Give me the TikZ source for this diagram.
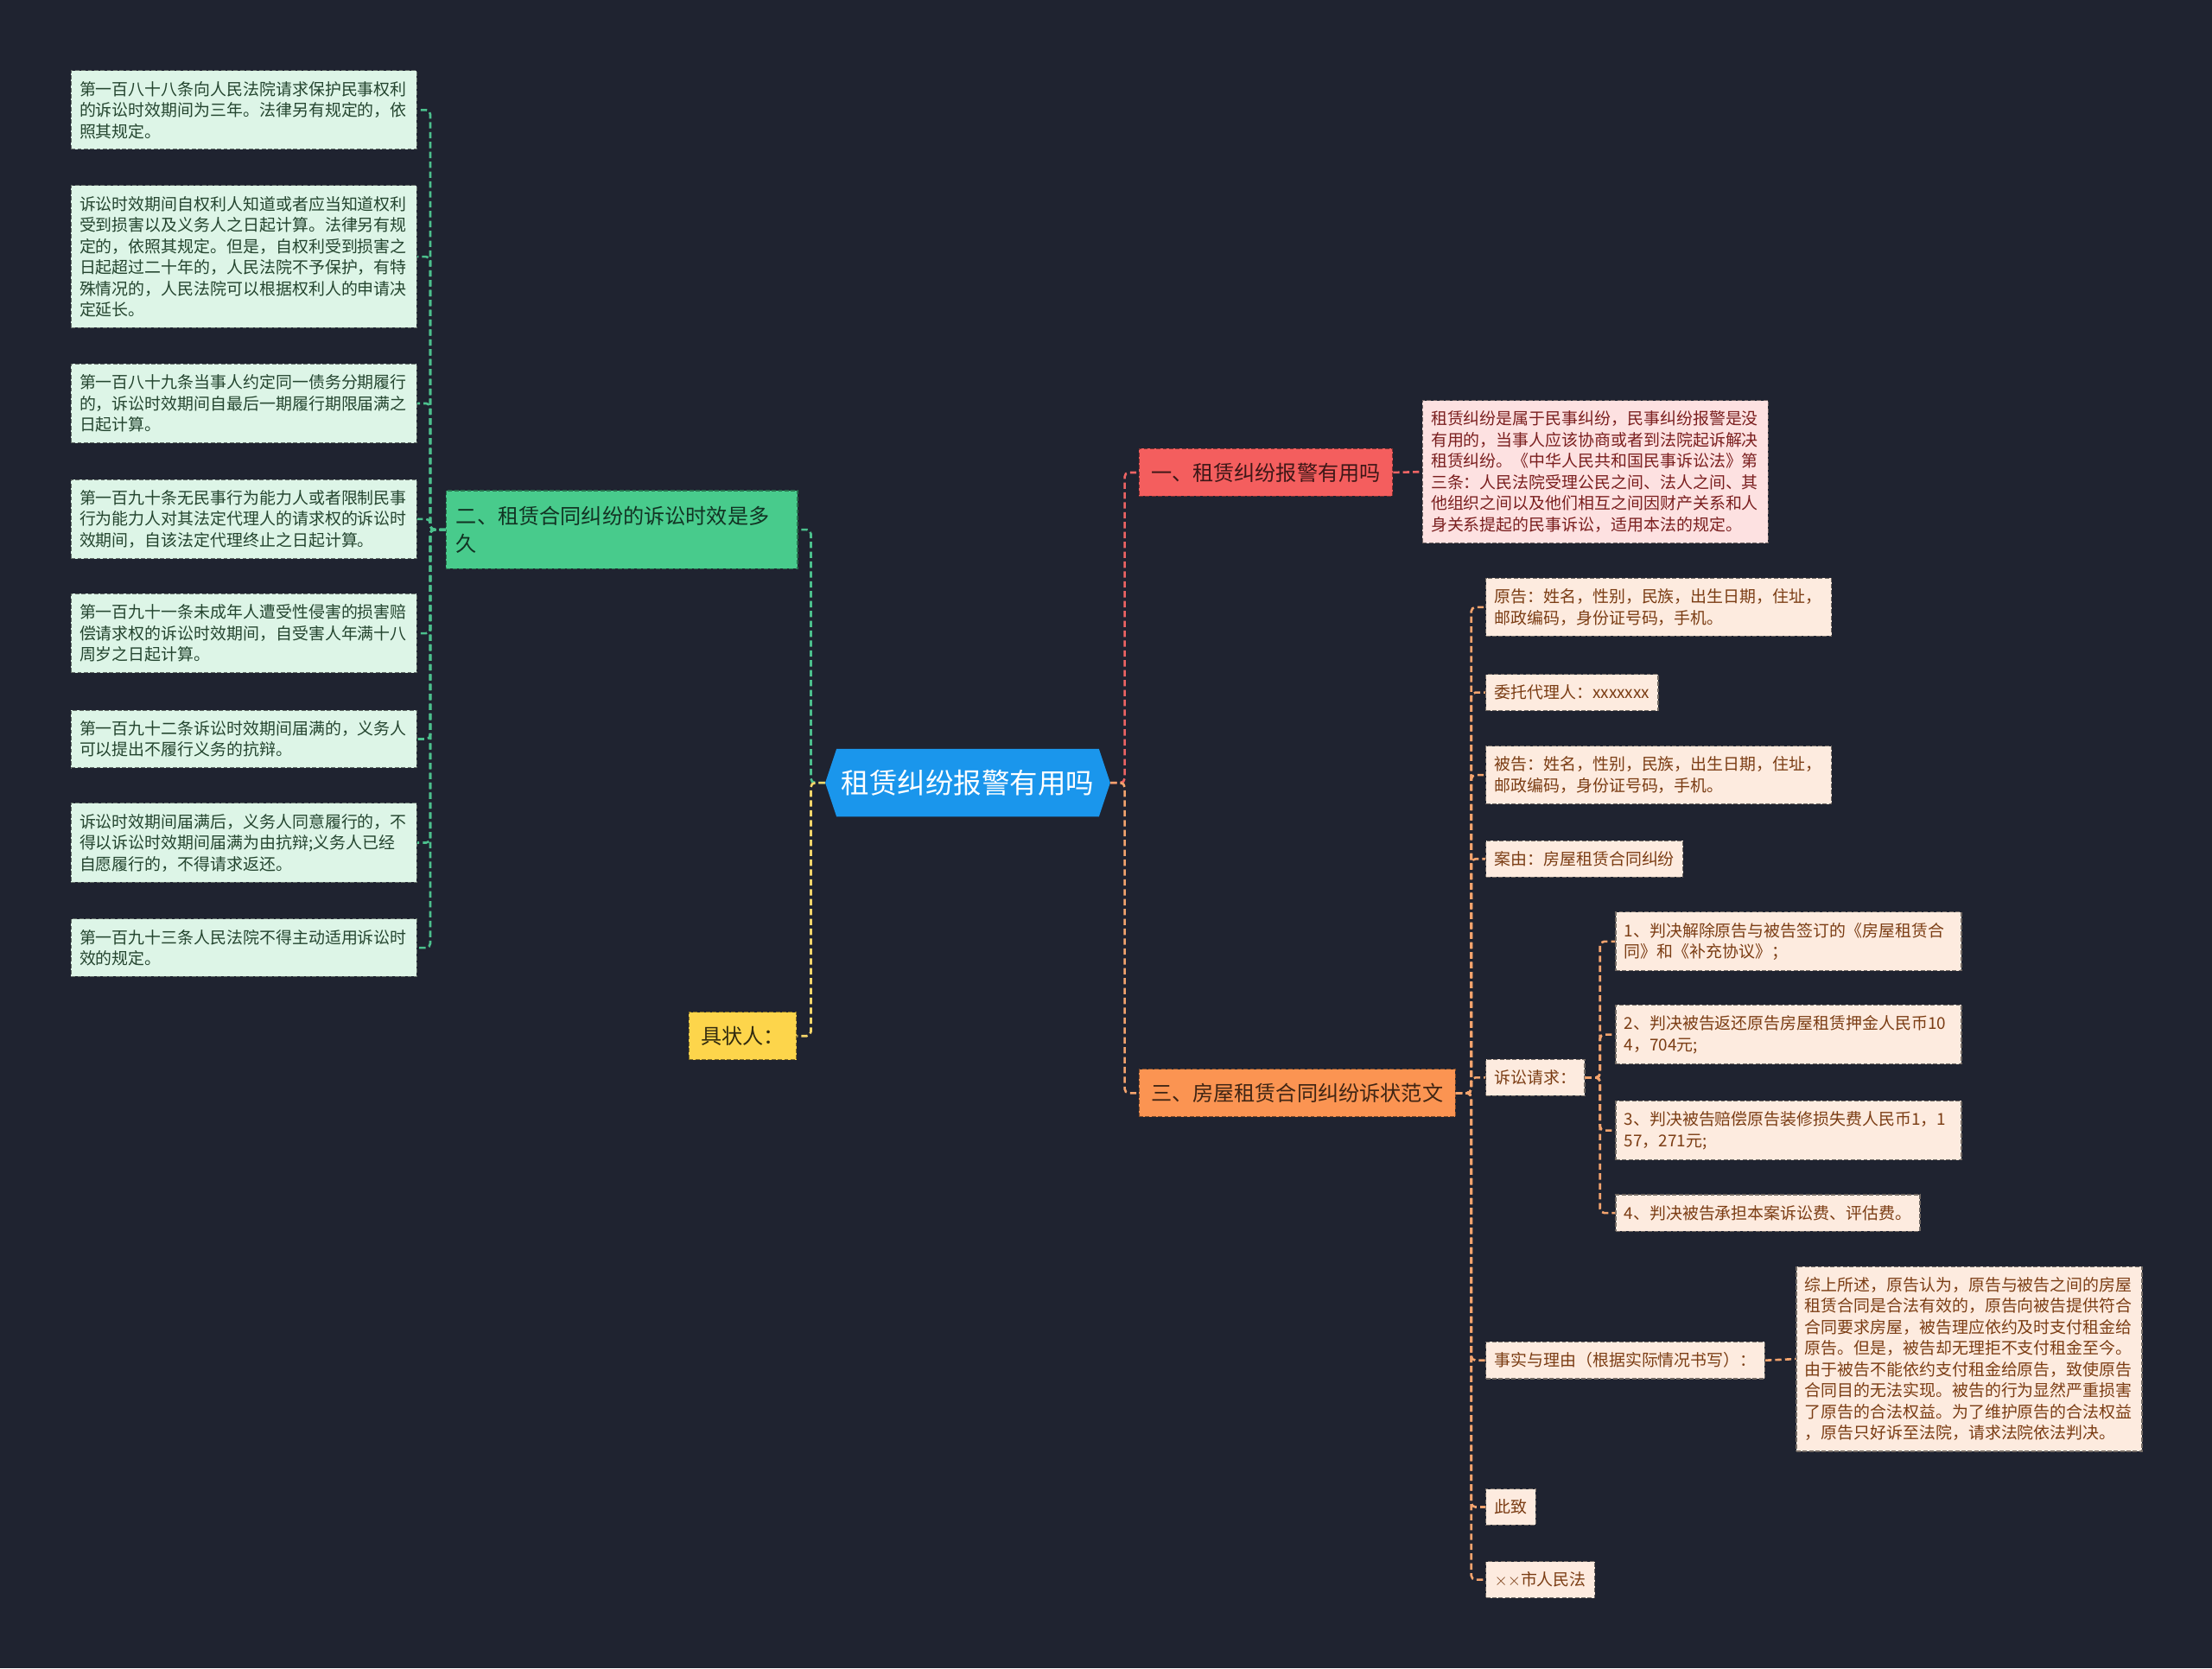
\documentclass[tikz,border=0pt]{standalone}
\usepackage{fontspec}
\setmainfont{Noto Sans CJK SC}
\usepackage{xcolor}
\usetikzlibrary{positioning, calc}

\definecolor{bgcol}{HTML}{1F2330}
\definecolor{rootblue}{HTML}{1A96EC}
\definecolor{greenline}{HTML}{4CC08D}
\definecolor{greenfill}{HTML}{48CB8C}
\definecolor{mintfill}{HTML}{DDF5E7}
\definecolor{minttext}{HTML}{24452F}
\definecolor{redline}{HTML}{EE6464}
\definecolor{redfill}{HTML}{F45E5E}
\definecolor{pinkfill}{HTML}{FDE1E1}
\definecolor{pinktext}{HTML}{7A1F1F}
\definecolor{orangeline}{HTML}{F4A46E}
\definecolor{orangefill}{HTML}{FB9452}
\definecolor{peachfill}{HTML}{FDEBDF}
\definecolor{peachtext}{HTML}{7B3D14}
\definecolor{yellowline}{HTML}{F6D66A}
\definecolor{yellowfill}{HTML}{FDD54B}

\tikzset{
    box/.style={dash pattern=on 3pt off 1.5pt, line width=0.7pt, anchor=west, align=left,
        inner xsep=6pt, inner ysep=7.5pt, font=\fontsize{11.6}{15}\selectfont},
    lawbox/.style={box, draw=mintfill!45!black, fill=mintfill, text=minttext, text width=233pt},
    notebox/.style={box, draw=pinkfill!45!black, fill=pinkfill, text=pinktext, text width=233pt},
    itembox/.style={box, draw=peachfill!45!black, fill=peachfill, text=peachtext},
    widebox/.style={itembox, text width=233pt},
    topic/.style={dash pattern=on 3pt off 1.5pt, line width=0.7pt, anchor=west, align=left,
        inner xsep=8.5pt, inner ysep=10pt, font=\fontsize{14.8}{19.5}\selectfont},
    link/.style={dash pattern=on 4.5pt off 2.5pt, line width=1.6pt, rounded corners=3pt},
}

\begin{document}
\begin{tikzpicture}[x=1pt, y=-1pt]
    % 背景
    \fill[bgcol] (0,0) rectangle (1568,1183);

    % 中心主题
    \fill[rootblue] (585,555) -- (593,531) -- (779,531) -- (787,555) -- (779,579) -- (593,579) -- cycle;
    \node[minimum width=202pt, minimum height=48pt, inner sep=0pt, text=white,
        font=\fontsize{19.9}{24}\selectfont] (root) at (686,555) {租赁纠纷报警有用吗};

    % 左侧分支
    \node[topic, draw=greenfill!55!black, fill=greenfill, text=greenfill!25!black,
        text width=235pt, inner xsep=7pt, inner ysep=11pt] (sub2) at (316,375.5)
        {二、租赁合同纠纷的诉讼时效是多\\久};
    \node[topic, draw=yellowfill!50!black, fill=yellowfill, text=yellowfill!20!black] (signer) at (488,734.5) {具状人：};

    \node[lawbox] (law1) at (50,78) {第一百八十八条向人民法院请求保护民事权利\\的诉讼时效期间为三年。法律另有规定的，依\\照其规定。};
    \node[lawbox] (law2) at (50,182) {诉讼时效期间自权利人知道或者应当知道权利\\受到损害以及义务人之日起计算。法律另有规\\定的，依照其规定。但是，自权利受到损害之\\日起超过二十年的，人民法院不予保护，有特\\殊情况的，人民法院可以根据权利人的申请决\\定延长。};
    \node[lawbox] (law3) at (50,286) {第一百八十九条当事人约定同一债务分期履行\\的，诉讼时效期间自最后一期履行期限届满之\\日起计算。};
    \node[lawbox] (law4) at (50,368) {第一百九十条无民事行为能力人或者限制民事\\行为能力人对其法定代理人的请求权的诉讼时\\效期间，自该法定代理终止之日起计算。};
    \node[lawbox] (law5) at (50,449) {第一百九十一条未成年人遭受性侵害的损害赔\\偿请求权的诉讼时效期间，自受害人年满十八\\周岁之日起计算。};
    \node[lawbox] (law6) at (50,524) {第一百九十二条诉讼时效期间届满的，义务人\\可以提出不履行义务的抗辩。};
    \node[lawbox] (law7) at (50,597.5) {诉讼时效期间届满后，义务人同意履行的，不\\得以诉讼时效期间届满为由抗辩;义务人已经\\自愿履行的，不得请求返还。};
    \node[lawbox] (law8) at (50,672) {第一百九十三条人民法院不得主动适用诉讼时\\效的规定。};

    % 右侧分支
    \node[topic, draw=redfill!50!black, fill=redfill, text=redfill!25!black] (sub1) at (807,335) {一、租赁纠纷报警有用吗};
    \node[notebox] (note1) at (1008,334.5) {租赁纠纷是属于民事纠纷，民事纠纷报警是没\\有用的，当事人应该协商或者到法院起诉解决\\租赁纠纷。《中华人民共和国民事诉讼法》第\\三条：人民法院受理公民之间、法人之间、其\\他组织之间以及他们相互之间因财产关系和人\\身关系提起的民事诉讼，适用本法的规定。};

    \node[topic, draw=orangefill!50!black, fill=orangefill, text=orangefill!25!black] (sub3) at (807,775) {三、房屋租赁合同纠纷诉状范文};
    \node[widebox] (plaintiff) at (1053,430.5) {原告：姓名，性别，民族，出生日期，住址，\\邮政编码，身份证号码，手机。};
    \node[itembox] (agent) at (1053,491) {委托代理人：xxxxxxx};
    \node[widebox] (defendant) at (1053,549.5) {被告：姓名，性别，民族，出生日期，住址，\\邮政编码，身份证号码，手机。};
    \node[itembox] (cause) at (1053,609) {案由：房屋租赁合同纠纷};
    \node[itembox] (claims) at (1053,764) {诉讼请求：};
    \node[widebox] (claim1) at (1145,667.5) {1、判决解除原告与被告签订的《房屋租赁合\\同》和《补充协议》；};
    \node[widebox] (claim2) at (1145,733.5) {2、判决被告返还原告房屋租赁押金人民币10\\4，704元;};
    \node[widebox] (claim3) at (1145,801.5) {3、判决被告赔偿原告装修损失费人民币1，1\\57，271元;};
    \node[itembox] (claim4) at (1145,860) {4、判决被告承担本案诉讼费、评估费。};
    \node[itembox] (facts) at (1053,964.5) {事实与理由（根据实际情况书写）：};
    \node[widebox] (factsnote) at (1273,963.5) {综上所述，原告认为，原告与被告之间的房屋\\租赁合同是合法有效的，原告向被告提供符合\\合同要求房屋，被告理应依约及时支付租金给\\原告。但是，被告却无理拒不支付租金至今。\\由于被告不能依约支付租金给原告，致使原告\\合同目的无法实现。被告的行为显然严重损害\\了原告的合法权益。为了维护原告的合法权益\\，原告只好诉至法院，请求法院依法判决。};
    \node[itembox] (salute) at (1053,1068.5) {此致};
    \node[itembox] (court) at (1053,1120) {$\times$$\times$市人民法};

    % 连线
    \draw[link, greenline] (root.west) -- ++(-10,0) |- (sub2.east);
    \draw[link, yellowline] (root.west) -- ++(-10,0) |- (signer.east);
    \foreach \n in {1,...,8} {
        \draw[link, greenline] (sub2.west) -- ++(-11,0) |- (law\n.east);
    }
    \draw[link, redline] (root.east) -- ++(10,0) |- (sub1.west);
    \draw[link, orangeline] (root.east) -- ++(10,0) |- (sub3.west);
    \draw[link, redline] (sub1.east) -- (note1.west);
    \foreach \n in {plaintiff, agent, defendant, cause, claims, facts, salute, court} {
        \draw[link, orangeline] (sub3.east) -- ++(11,0) |- (\n.west);
    }
    \foreach \n in {1,...,4} {
        \draw[link, orangeline] (claims.east) -- ++(10.5,0) |- (claim\n.west);
    }
    \draw[link, orangeline] (facts.east) -- (factsnote.west);
\end{tikzpicture}
\end{document}
